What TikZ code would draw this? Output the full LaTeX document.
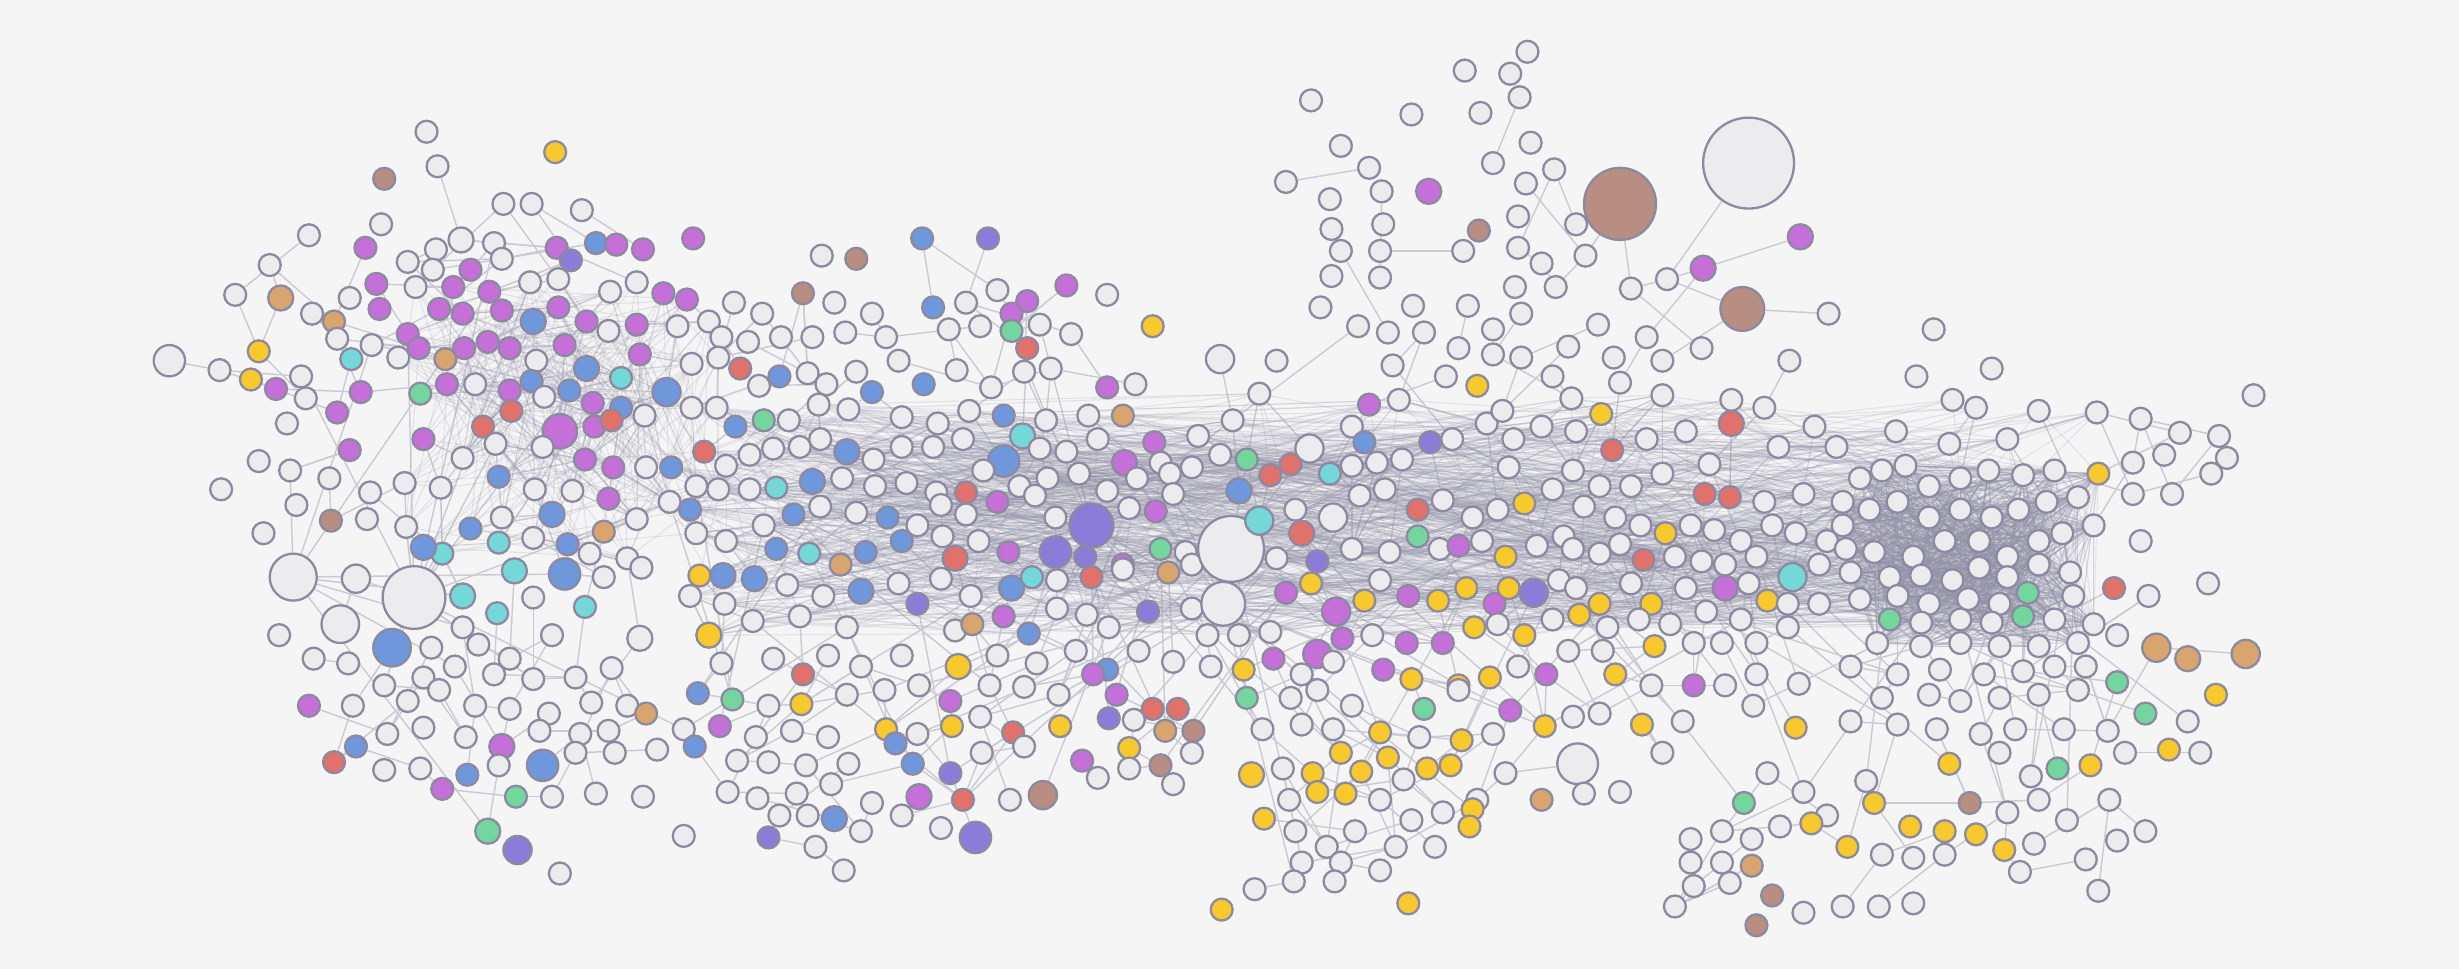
\documentclass[tikz,border=0pt]{standalone}
\usepackage{tikz}
\pgfdeclarelayer{bg}
\pgfsetlayers{bg,main}
\definecolor{cbg}{HTML}{F5F5F5}
\definecolor{cw}{HTML}{ECECEE}
\definecolor{cbd}{HTML}{8C89A0}
\definecolor{cp}{HTML}{C570D9}
\definecolor{cb}{HTML}{6F98DC}
\definecolor{ct}{HTML}{74D7D8}
\definecolor{cg}{HTML}{73D69E}
\definecolor{cr}{HTML}{E0716B}
\definecolor{cy}{HTML}{F7C92D}
\definecolor{co}{HTML}{D8A56F}
\definecolor{cn}{HTML}{B88E82}
\definecolor{cv}{HTML}{8B7CDA}
\definecolor{ced}{HTML}{CACAD4}
\definecolor{chz}{HTML}{9494AA}
\newcount\hzcnt
\newcount\rtcnt
\newcount\ltcnt
\newcommand\linkpos[2]{\draw[edge] (n\csname pos#1\endcsname) -- (n\csname pos#2\endcsname);}
\begin{document}
\begin{tikzpicture}[x=0.01568cm,y=-0.01568cm,
  nd/.style={circle,draw=cbd,line width=0.65pt,inner sep=0pt},
  edge/.style={draw=ced,line width=0.4pt},
  haze/.style={draw=chz,line width=0.3pt,opacity=0.2}]
\begin{pgfonlayer}{bg}
\fill[cbg] (0,0) rectangle (1568,618);
\end{pgfonlayer}
\useasboundingbox (0,0) rectangle (1568,618);
\pgfmathsetseed{4242}
\foreach \x/\y/\c/\r [count=\i] in {
272/84/w/7, 279/106/w/7, 354/97/y/7, 245/114/n/7, 321/130/w/7, 339/130/w/7, 371/134/w/7, 243/143/w/7, 294/153/w/8, 315/155/w/7, 278/159/w/7, 355/158/p/7, 364/166/v/7, 380/155/b/7, 393/156/p/7, 410/159/p/7, 442/152/p/7, 197/150/w/7, 233/158/p/7, 260/167/w/7, 276/172/w/7, 300/172/p/7, 320/165/w/7, 172/169/w/7, 150/188/w/7, 179/190/o/8, 240/181/p/7, 265/183/w/7, 289/183/p/7, 312/186/p/7, 338/180/w/7, 356/178/w/7, 389/186/w/7, 406/180/w/7, 423/187/p/7, 438/191/p/7, 213/205/o/7, 242/197/p/7, 199/200/w/7, 223/190/w/7, 260/213/p/7, 280/197/p/7, 295/200/p/7, 320/198/p/7, 340/205/b/8, 356/196/p/7, 374/205/p/7, 406/207/p/7, 388/211/w/7, 432/208/w/7, 452/205/w/7, 165/224/y/7, 140/236/w/7, 108/230/w/10, 160/242/y/7, 176/248/p/7, 192/240/w/7, 224/229/t/7, 237/220/w/7, 215/216/w/7, 254/228/w/7, 267/222/p/7, 284/229/o/7, 296/222/p/7, 311/218/p/7, 325/222/p/7, 342/230/w/7, 360/220/p/7, 374/235/b/8, 396/241/t/7, 408/226/p/7, 425/250/b/9, 441/232/w/7, 183/270/w/7, 195/254/w/7, 215/263/p/7, 230/250/p/7, 268/251/g/7, 285/245/p/7, 303/245/w/7, 325/249/p/7, 339/243/b/7, 357/275/p/11, 347/253/w/7, 363/249/b/7, 378/257/p/7, 396/260/b/7, 411/265/w/7, 308/272/r/7, 326/262/r/7, 379/272/p/7, 390/268/r/7, 223/287/p/7, 270/280/p/7, 295/292/w/7, 316/283/w/7, 346/285/w/7, 373/293/p/7, 391/298/p/7, 412/298/w/7, 428/298/b/7, 165/294/w/7, 185/300/w/7, 141/312/w/7, 210/305/w/7, 236/314/w/7, 258/308/w/7, 281/311/w/7, 318/304/b/7, 341/312/w/7, 365/313/w/7, 388/318/p/7, 168/340/w/7, 189/322/w/7, 211/332/n/7, 234/331/w/7, 259/336/w/7, 300/337/b/7, 320/330/w/7, 352/328/b/8, 385/339/o/7, 406/331/w/7, 427/320/w/7, 444/310/w/7, 282/353/t/7, 270/349/b/8, 318/346/t/7, 340/343/w/7, 362/347/b/7, 376/353/w/7, 400/356/w/7, 187/368/w/15, 227/369/w/9, 264/381/w/20, 295/380/t/8, 328/364/t/8, 360/366/b/10, 385/368/w/7, 409/362/w/7, 217/398/w/12, 178/405/w/7, 250/413/b/12, 295/400/w/7, 317/391/t/7, 340/381/w/7, 373/387/t/7, 408/407/w/8, 275/413/w/7, 305/411/w/7, 325/420/w/7, 352/405/w/7, 200/420/w/7, 222/423/w/7, 245/437/w/7, 270/432/w/7, 290/425/w/7, 315/430/w/7, 340/433/w/7, 367/432/w/7, 390/426/w/7, 197/450/p/7, 225/450/w/7, 260/447/w/7, 280/440/w/7, 303/450/w/7, 325/452/w/7, 350/455/w/7, 377/448/w/7, 400/450/w/7, 412/455/o/7, 227/476/b/7, 247/468/w/7, 270/464/w/7, 297/470/w/7, 320/476/p/8, 344/466/w/7, 370/468/w/7, 388/466/w/7, 213/486/r/7, 245/491/w/7, 268/490/w/7, 282/503/p/7, 298/494/b/7, 318/488/w/7, 346/488/b/10, 367/480/w/7, 392/480/w/7, 419/478/w/7, 329/508/g/7, 352/508/w/7, 380/506/w/7, 410/508/w/7, 311/530/g/8, 330/542/v/9, 357/557/w/7, 436/533/w/7,
524/163/w/7, 546/165/n/7, 588/152/b/7, 630/152/v/7, 468/193/w/7, 486/200/w/7, 512/187/n/7, 532/193/w/7, 556/200/w/7, 595/196/b/7, 616/193/w/7, 636/185/w/7, 655/192/p/7, 680/182/p/7, 706/188/w/7, 460/215/w/7, 477/218/w/7, 498/215/w/7, 518/215/w/7, 539/212/w/7, 565/215/w/7, 605/210/w/7, 625/208/w/7, 645/200/p/7, 663/207/w/7, 683/213/w/7, 735/208/y/7, 645/211/g/7, 655/222/r/7, 458/228/w/7, 472/235/r/7, 484/246/w/7, 497/240/b/7, 515/238/w/7, 527/245/w/7, 546/237/w/7, 573/230/w/7, 589/245/b/7, 610/236/w/7, 632/247/w/7, 653/237/w/7, 670/235/w/7, 706/247/p/7, 724/245/w/7, 441/260/w/7, 457/260/w/7, 469/272/b/7, 487/268/g/7, 503/268/w/7, 522/258/w/7, 541/261/w/7, 556/250/b/7, 575/266/w/7, 598/270/w/7, 618/262/w/7, 640/265/b/7, 652/278/t/8, 667/268/w/7, 694/265/w/7, 716/265/o/7, 736/282/p/7, 449/288/r/7, 463/297/w/7, 478/290/w/7, 493/286/w/7, 510/285/w/7, 523/280/w/7, 540/288/b/8, 557/293/w/7, 575/285/w/7, 595/285/w/7, 614/280/w/7, 640/294/b/10, 663/286/w/7, 680/288/w/7, 700/280/w/7, 717/295/p/8, 740/295/w/7, 440/325/b/7, 458/312/w/7, 478/312/w/7, 495/311/t/7, 518/307/b/8, 537/305/w/7, 558/310/w/7, 578/308/w/7, 597/314/w/7, 616/314/r/7, 627/300/w/7, 650/310/w/7, 668/305/w/7, 688/302/w/7, 706/313/w/7, 725/305/w/7, 746/302/w/7, 760/298/w/7, 444/340/w/7, 463/345/w/7, 487/335/w/7, 506/328/b/7, 523/323/w/7, 546/327/w/7, 566/330/b/7, 585/335/w/7, 600/322/w/7, 616/328/w/7, 636/320/p/7, 660/316/w/7, 673/330/w/7, 696/335/v/14, 720/324/w/7, 737/326/p/7, 748/315/w/7, 446/367/y/7, 461/367/b/8, 481/369/b/8, 495/350/b/7, 516/353/t/7, 536/360/o/7, 552/352/b/7, 575/345/b/7, 601/342/w/7, 609/356/r/8, 624/345/w/7, 643/352/p/7, 673/352/v/10, 692/355/v/7, 716/360/p/7, 740/350/g/7, 756/352/w/7, 440/380/w/7, 462/385/w/7, 502/373/w/7, 525/380/w/7, 549/377/b/8, 573/372/w/7, 600/369/w/7, 619/380/w/7, 645/375/b/8, 658/368/t/7, 674/370/w/7, 696/368/r/7, 716/363/w/7, 745/365/o/7, 760/360/w/7, 452/405/y/8, 480/396/w/7, 510/393/w/7, 540/400/w/7, 585/385/v/7, 609/402/w/7, 620/398/o/7, 640/393/p/7, 656/404/b/7, 674/388/w/7, 693/392/w/7, 707/400/w/7, 732/390/v/7, 760/388/w/7, 460/423/w/7, 493/420/w/7, 512/430/r/7, 528/418/w/7, 549/425/w/7, 575/418/w/7, 611/425/y/8, 636/418/w/7, 661/423/w/7, 686/415/w/7, 706/427/b/7, 726/415/w/7, 748/422/w/7, 445/442/b/7, 467/446/g/7, 490/450/w/7, 511/449/y/7, 540/443/w/7, 564/440/w/7, 586/437/w/7, 606/447/p/7, 631/437/w/7, 653/438/w/7, 675/443/w/7, 697/430/p/7, 712/443/p/7, 735/452/r/7, 751/452/r/7, 436/465/w/7, 459/463/p/7, 482/470/w/7, 505/466/w/7, 528/470/w/7, 565/465/y/7, 585/468/w/7, 607/463/y/7, 625/457/w/7, 646/467/r/7, 676/463/y/7, 707/458/v/7, 723/459/w/7, 743/466/o/7, 761/466/n/7, 443/476/b/7, 470/485/w/7, 490/486/w/7, 514/488/w/7, 541/487/w/7, 571/474/b/7, 582/487/b/7, 606/493/v/7, 626/480/w/7, 653/476/w/7, 690/485/p/7, 720/477/y/7, 740/488/n/7, 760/480/w/7, 464/505/w/7, 483/509/w/7, 508/506/w/7, 530/500/w/7, 556/512/w/7, 586/508/p/8, 614/510/r/7, 644/510/w/7, 665/507/n/9, 700/496/w/7, 720/490/w/7, 748/500/w/7, 497/520/w/7, 515/520/w/7, 532/522/b/8, 549/530/w/7, 575/520/w/7, 600/528/w/7, 622/534/v/10, 490/534/v/7, 520/540/w/7, 538/555/w/7,
836/64/w/7, 820/116/w/7, 848/127/w/7, 855/93/w/7, 873/107/w/7, 881/122/w/7, 900/73/w/7, 911/122/p/8, 882/143/w/7, 880/160/w/7, 849/146/w/7, 855/160/w/7, 849/176/w/7, 880/177/w/7, 842/196/w/7, 866/208/w/7, 885/212/w/7, 901/195/w/7, 908/212/w/7, 888/233/w/7, 873/258/p/7, 862/272/w/7, 892/255/w/7, 922/240/w/7, 942/246/y/7, 943/147/n/7, 933/160/w/7, 778/229/w/9, 814/230/w/7, 803/251/w/7, 786/268/w/7, 764/278/w/7, 778/290/w/7, 795/293/g/7, 810/303/r/7, 823/296/r/7, 835/286/w/9, 848/302/t/7, 862/297/w/7, 878/295/w/7, 870/282/b/7, 894/293/w/7, 912/282/v/7, 926/280/w/7, 948/270/w/7, 962/298/w/7, 785/350/w/21, 780/385/w/14, 790/313/b/8, 803/332/t/9, 826/325/w/7, 830/340/r/8, 850/330/w/9, 867/316/w/7, 883/312/w/7, 904/325/r/7, 920/319/w/7, 939/330/w/7, 955/325/w/7, 972/321/y/7, 990/312/w/7, 814/356/w/7, 840/358/v/7, 862/350/w/7, 886/352/w/7, 904/342/g/7, 918/350/w/7, 930/348/p/7, 945/345/w/7, 960/355/y/7, 980/348/w/7, 997/342/w/7, 820/378/p/7, 836/372/y/7, 852/390/p/9, 870/383/y/7, 880/370/w/7, 898/380/p/7, 917/383/y/7, 935/375/y/7, 953/385/p/7, 962/375/y/7, 978/378/v/9, 994/370/w/7, 770/405/w/7, 790/405/w/7, 810/403/w/7, 840/417/p/9, 856/407/p/7, 875/405/w/7, 897/410/p/7, 920/410/p/7, 940/400/y/7, 955/398/w/7, 972/405/y/7, 990/395/w/7, 772/425/w/7, 793/427/y/7, 812/420/p/7, 830/430/w/7, 850/422/w/7, 882/427/p/7, 900/433/y/7, 930/437/y/7, 950/432/y/7, 968/425/w/7, 986/430/p/7, 795/445/g/7, 823/445/w/7, 840/440/w/7, 862/450/w/7, 908/452/g/7, 930/440/w/7, 963/453/p/7, 985/463/y/7, 805/465/w/7, 830/462/w/7, 850/465/w/7, 880/467/y/7, 905/470/w/7, 932/472/y/7, 952/468/w/7, 798/494/y/8, 818/490/w/7, 837/493/y/7, 855/480/y/7, 868/492/y/7, 885/483/y/7, 895/497/w/7, 910/490/y/7, 925/488/y/7, 942/510/w/7, 960/493/w/7, 983/510/o/7, 1006/487/w/13, 806/522/y/7, 822/510/w/7, 840/505/y/7, 858/506/y/7, 880/510/w/7, 900/523/w/7, 920/518/w/7, 939/516/y/7, 937/527/y/7, 826/530/w/7, 846/540/w/7, 864/530/w/7, 890/540/w/7, 915/540/w/7, 830/550/w/7, 855/550/w/7, 880/555/w/7, 800/567/w/7, 825/562/w/7, 851/562/w/7, 779/580/y/7, 898/576/y/7,
974/33/w/7, 934/45/w/7, 963/47/w/7, 944/72/w/7, 969/62/w/7, 976/91/w/7, 952/104/w/7, 973/117/w/7, 991/108/w/7, 1033/130/n/23, 1115/104/w/29, 968/138/w/7, 1005/143/w/7, 968/158/w/7, 983/168/w/7, 1011/163/w/7, 1040/184/w/7, 1063/178/w/7, 1086/171/p/8, 1148/151/p/8, 1111/197/n/14, 1166/200/w/7, 966/183/w/7, 992/183/w/7, 1019/207/w/7, 970/200/w/7, 952/210/w/7, 936/195/w/7, 930/222/w/7, 952/226/w/7, 970/228/w/7, 1000/221/w/7, 1029/228/w/7, 1050/215/w/7, 1085/222/w/7, 1060/230/w/7, 1141/230/w/7, 1033/244/w/7, 1021/264/y/7, 1060/252/w/7, 1104/255/w/7, 990/240/w/7, 1002/254/w/7, 958/262/w/7, 965/280/w/7, 983/272/w/7, 1005/275/w/7, 1028/287/r/7, 1050/280/w/7, 1075/275/w/7, 1104/270/r/8, 1125/260/w/7, 1157/272/w/7, 1134/285/w/7, 1171/285/w/7, 1090/296/w/7,
1003/300/w/7, 1020/310/w/7, 1040/310/w/7, 1060/302/w/7, 1087/315/r/7, 1103/317/r/7, 1125/320/w/7, 1150/315/w/7, 1175/320/w/7, 1010/323/w/7, 1030/330/w/7, 1046/335/w/7, 1062/340/y/7, 1078/335/w/7, 1093/338/w/7, 1110/345/w/7, 1130/335/w/7, 1145/340/w/7, 1165/345/w/7, 1003/350/w/7, 1020/353/w/7, 1033/347/w/7, 1048/357/r/7, 1068/355/w/7, 1085/358/w/7, 1100/360/w/7, 1120/355/w/7, 1143/368/t/9, 1160/360/w/7, 1005/375/w/7, 1020/385/y/7, 1040/372/w/7, 1053/385/y/7, 1075/375/w/7, 1100/375/p/8, 1115/372/w/7, 1127/383/y/7, 1007/392/y/7, 1025/400/w/7, 1045/395/w/7, 1065/398/w/7, 1088/390/w/7, 1110/395/w/7, 1140/385/w/7, 1160/385/w/7, 1000/415/w/7, 1022/415/w/7, 1055/412/y/7, 1080/410/w/7, 1098/410/w/7, 1120/410/w/7, 1140/400/w/7, 1030/430/y/7, 1053/437/w/7, 1080/437/p/7, 1100/437/w/7, 1120/430/w/7, 1147/436/w/7, 1003/457/w/7, 1020/455/w/7, 1047/462/y/7, 1073/460/w/7, 1118/450/w/7, 1145/464/y/7, 1060/480/w/7, 1033/505/w/7, 1010/506/w/7,
1233/210/w/7, 1222/240/w/7, 1270/235/w/7, 1245/255/w/7, 1260/260/w/7, 1209/275/w/7, 1243/283/w/7, 1280/280/w/7, 1300/262/w/7, 1337/263/w/7, 1365/267/w/7, 1390/276/w/7, 1437/252/w/7, 1200/300/w/7, 1186/305/w/7, 1215/297/w/7, 1230/310/w/7, 1250/305/w/7, 1268/300/w/7, 1290/303/w/7, 1310/300/w/7, 1338/302/y/7, 1360/295/w/7, 1380/290/w/7, 1415/278/w/7, 1420/292/w/7, 1410/302/w/7, 1175/335/w/7, 1192/325/w/7, 1210/320/w/7, 1230/330/w/7, 1250/325/w/7, 1270/330/w/7, 1287/325/w/7, 1305/320/w/7, 1325/317/w/7, 1360/315/w/7, 1385/315/w/7, 1177/350/w/7, 1195/352/w/7, 1220/355/w/7, 1240/345/w/7, 1262/345/w/7, 1280/355/w/7, 1300/345/w/7, 1315/340/w/7, 1335/335/w/7, 1180/365/w/7, 1205/368/w/7, 1225/367/w/7, 1245/370/w/7, 1262/362/w/7, 1280/368/w/7, 1300/360/w/7, 1320/365/w/7, 1365/345/w/7, 1186/382/w/7, 1210/380/w/7, 1230/385/w/7, 1255/382/w/7, 1275/385/w/7, 1293/378/g/7, 1322/380/w/7, 1348/375/r/7, 1370/380/w/7, 1408/372/w/7, 1205/395/g/7, 1225/397/w/7, 1250/395/w/7, 1270/397/w/7, 1290/393/g/7, 1310/395/w/7, 1335/398/w/7, 1197/410/w/7, 1225/412/w/7, 1250/410/w/7, 1275/412/w/7, 1300/412/w/7, 1325/410/w/7, 1350/405/w/7, 1375/413/o/9, 1395/420/o/8, 1432/417/o/9, 1180/425/w/7, 1210/430/w/7, 1237/427/w/7, 1265/430/w/7, 1290/428/w/7, 1310/425/w/7, 1330/425/w/7, 1350/435/g/7, 1413/443/y/7, 1200/445/w/7, 1230/443/w/7, 1250/447/w/7, 1275/445/w/7, 1300/443/w/7, 1325/440/w/7, 1368/455/g/7, 1180/460/w/7, 1210/462/w/7, 1235/465/w/7, 1263/468/w/7, 1285/465/w/7, 1316/465/w/7, 1344/466/w/7, 1395/460/w/7, 1243/487/y/7, 1275/480/w/7, 1295/495/w/7, 1312/490/g/7, 1333/488/y/7, 1355/480/w/7, 1383/478/y/7, 1403/480/w/7, 1127/493/w/7, 1150/505/w/7, 1190/498/w/7, 1165/520/w/7, 1195/512/y/7, 1218/527/y/7, 1240/530/y/7, 1256/512/n/7, 1260/532/y/7, 1280/518/w/7, 1300/510/w/7, 1318/523/w/7, 1345/510/w/7, 1368/530/w/7, 1112/512/g/7, 1135/527/w/7, 1155/525/y/7, 1178/540/y/7, 1200/545/w/7, 1220/547/w/7, 1240/545/w/7, 1278/542/y/7, 1297/538/w/7, 1330/548/w/7, 1350/536/w/7, 1078/535/w/7, 1098/530/w/7, 1117/535/w/7, 1078/550/w/7, 1098/550/w/7, 1117/552/o/7, 1080/565/w/7, 1103/563/w/7, 1068/578/w/7, 1130/571/n/7, 1150/582/w/7, 1175/578/w/7, 1198/578/w/7, 1220/576/w/7, 1120/590/n/7, 1338/568/w/7, 1288/556/w/7}{
  \node[nd,fill=c\c,minimum size=\r*0.03136cm] (n\i) at (\x,\y) {};
  \expandafter\xdef\csname nx\i\endcsname{\x}%
  \expandafter\xdef\csname ny\i\endcsname{\y}%
  \expandafter\xdef\csname nr\i\endcsname{\r}%
  \expandafter\xdef\csname pos\x-\y\endcsname{\i}%
  \xdef\NN{\i}%
  \ifnum\y>250 \ifnum\y<410 \ifnum\x>420 \ifnum\x<1340
    \global\advance\hzcnt by 1
    \expandafter\xdef\csname bd\the\hzcnt\endcsname{\i}%
  \fi\fi\fi\fi
  \ifnum\y>288 \ifnum\y<415 \ifnum\x>1170 \ifnum\x<1340
    \global\advance\rtcnt by 1
    \expandafter\xdef\csname rt\the\rtcnt\endcsname{\i}%
  \fi\fi\fi\fi
  \ifnum\y>175 \ifnum\y<360 \ifnum\x>250 \ifnum\x<460
    \global\advance\ltcnt by 1
    \expandafter\xdef\csname lt\the\ltcnt\endcsname{\i}%
  \fi\fi\fi\fi
}
\begin{pgfonlayer}{bg}
% local links
\foreach \i in {1,...,\NN}{
  \foreach \k in {1,2,3}{
    \pgfmathrandominteger{\jj}{1}{28}%
    \pgfmathtruncatemacro\jj{\i+\jj}%
    \ifnum\jj>\NN\relax\else
      \edef\xa{\csname nx\i\endcsname}\edef\ya{\csname ny\i\endcsname}%
      \edef\xb{\csname nx\jj\endcsname}\edef\yb{\csname ny\jj\endcsname}%
      \pgfmathtruncatemacro\ok{veclen((\xa-\xb)/100,(\ya-\yb)/100)<0.62}%
      \ifnum\ok=1 \draw[edge] (n\i) -- (n\jj);\fi
    \fi
  }
}
% named links around the large nodes
\linkpos{1115-104}{1063-178}
\linkpos{1033-130}{1040-184}
\linkpos{1040-184}{1063-178}
\linkpos{1063-178}{1086-171}
\linkpos{1086-171}{1148-151}
\linkpos{1063-178}{1111-197}
\linkpos{1111-197}{1166-200}
\linkpos{108-230}{140-236}
\linkpos{140-236}{176-248}
% hub links from the central large nodes
\foreach \i in {1,...,\NN}{
  \ifnum\csname nr\i\endcsname>13
  \ifnum\csname ny\i\endcsname>300 \ifnum\csname ny\i\endcsname<400
    \foreach \k in {1,...,40}{
      \pgfmathrandominteger{\jj}{1}{\NN}%
      \edef\xa{\csname nx\i\endcsname}\edef\ya{\csname ny\i\endcsname}%
      \edef\xb{\csname nx\jj\endcsname}\edef\yb{\csname ny\jj\endcsname}%
      \pgfmathtruncatemacro\ok{(veclen((\xa-\xb)/100,(\ya-\yb)/100)<2.4)*(\i!=\jj)}%
      \ifnum\ok=1 \draw[edge] (n\i) -- (n\jj);\fi
    }
  \fi\fi\fi
}
% radial links from the lower fringe up to the band
\foreach \i in {1,...,\NN}{
  \ifnum\csname ny\i\endcsname>425
    \foreach \k in {1,2,3}{
      \pgfmathrandominteger{\ia}{1}{\the\hzcnt}%
      \edef\pb{\csname bd\ia\endcsname}%
      \edef\xa{\csname nx\i\endcsname}\edef\ya{\csname ny\i\endcsname}%
      \edef\xb{\csname nx\pb\endcsname}\edef\yb{\csname ny\pb\endcsname}%
      \pgfmathtruncatemacro\ok{veclen((\xa-\xb)/100,(\ya-\yb)/100)<1.5}%
      \ifnum\ok=1 \draw[edge] (n\i) -- (n\pb);\fi
    }
  \fi
}
% dense haze in the central band: long, mostly horizontal links
\foreach \k in {1,...,6000}{
  \pgfmathrandominteger{\ia}{1}{\the\hzcnt}%
  \pgfmathrandominteger{\ib}{1}{\the\hzcnt}%
  \edef\pa{\csname bd\ia\endcsname}\edef\pb{\csname bd\ib\endcsname}%
  \edef\xa{\csname nx\pa\endcsname}\edef\ya{\csname ny\pa\endcsname}%
  \edef\xb{\csname nx\pb\endcsname}\edef\yb{\csname ny\pb\endcsname}%
  \pgfmathtruncatemacro\ok{(abs(\xa-\xb)<330)*(abs(\ya-\yb)<75)*(\pa!=\pb)}%
  \ifnum\ok=1 \draw[haze] (n\pa) -- (n\pb);\fi
}
% very dense right cluster
\foreach \k in {1,...,1600}{
  \pgfmathrandominteger{\ia}{1}{\the\rtcnt}%
  \pgfmathrandominteger{\ib}{1}{\the\rtcnt}%
  \edef\pa{\csname rt\ia\endcsname}\edef\pb{\csname rt\ib\endcsname}%
  \ifnum\pa=\pb\else \draw[haze] (n\pa) -- (n\pb);\fi
}
% lighter haze in the left cluster
\foreach \k in {1,...,500}{
  \pgfmathrandominteger{\ia}{1}{\the\ltcnt}%
  \pgfmathrandominteger{\ib}{1}{\the\ltcnt}%
  \edef\pa{\csname lt\ia\endcsname}\edef\pb{\csname lt\ib\endcsname}%
  \edef\xa{\csname nx\pa\endcsname}\edef\ya{\csname ny\pa\endcsname}%
  \edef\xb{\csname nx\pb\endcsname}\edef\yb{\csname ny\pb\endcsname}%
  \pgfmathtruncatemacro\ok{(veclen((\xa-\xb)/100,(\ya-\yb)/100)<1.5)*(\pa!=\pb)}%
  \ifnum\ok=1 \draw[haze] (n\pa) -- (n\pb);\fi
}
\end{pgfonlayer}
\end{tikzpicture}
\end{document}
